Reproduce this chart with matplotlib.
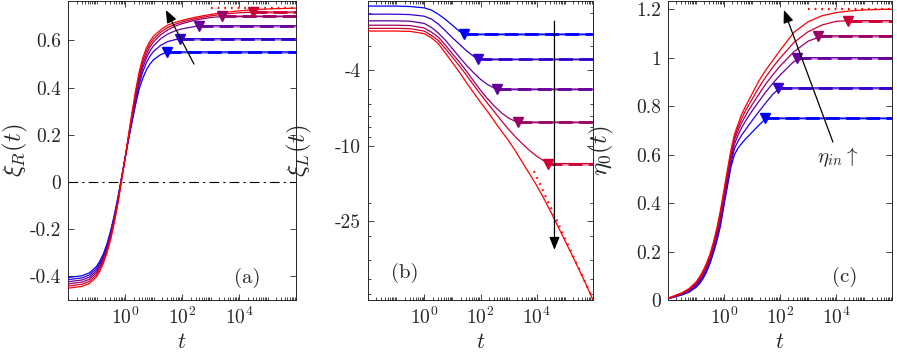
import numpy as np
import matplotlib
matplotlib.use('Agg')
import matplotlib.pyplot as plt
from matplotlib.ticker import FixedLocator, NullFormatter, FixedFormatter

plt.rcParams['font.family'] = ['cmr10', 'DejaVu Serif']
plt.rcParams['mathtext.fontset'] = 'cm'
plt.rcParams['axes.unicode_minus'] = False
plt.rcParams['axes.formatter.use_mathtext'] = True
plt.rcParams['lines.scale_dashes'] = False

# ---------------- data (log10 t grids and curve values) ----------------
XMIN, XMAX = 1e-2, 1e6

# panel (a): xi_R(t)
logt_a = [-2, -1.5, -1.25, -1, -0.875, -0.75, -0.625, -0.5, -0.375, -0.25, -0.125, 0, 0.125, 0.25,
          0.375, 0.5, 0.625, 0.75, 0.875, 1, 1.25, 1.5, 1.75, 2, 2.5, 3, 3.5, 4, 4.5, 5, 5.5, 6]
xiR_1 = [-0.405, -0.397, -0.385, -0.358, -0.334, -0.302, -0.259, -0.205, -0.14, -0.066, 0.017, 0.10, 0.18, 0.255,
         0.33, 0.395, 0.44, 0.475, 0.50, 0.518, 0.54, 0.551, 0.551, 0.551, 0.551, 0.551, 0.551, 0.551, 0.551,
         0.551, 0.551, 0.551]
xiR_2 = [-0.414, -0.406, -0.394, -0.367, -0.342, -0.31, -0.267, -0.212, -0.146, -0.071, 0.014, 0.10, 0.184, 0.265,
         0.345, 0.415, 0.467, 0.505, 0.533, 0.553, 0.579, 0.595, 0.603, 0.607, 0.607, 0.607, 0.607, 0.607, 0.607,
         0.607, 0.607, 0.607]
xiR_3 = [-0.423, -0.415, -0.403, -0.376, -0.351, -0.318, -0.274, -0.22, -0.153, -0.076, 0.011, 0.099, 0.188, 0.272,
         0.355, 0.43, 0.485, 0.525, 0.555, 0.577, 0.607, 0.627, 0.640, 0.649, 0.660, 0.662, 0.662, 0.662, 0.662,
         0.662, 0.662, 0.662]
xiR_4 = [-0.432, -0.424, -0.412, -0.384, -0.359, -0.326, -0.282, -0.227, -0.159, -0.082, 0.009, 0.099, 0.192, 0.281,
         0.366, 0.443, 0.50, 0.54, 0.572, 0.594, 0.624, 0.645, 0.66, 0.671, 0.687, 0.697, 0.702, 0.702, 0.702,
         0.702, 0.702, 0.702]
xiR_5 = [-0.441, -0.433, -0.421, -0.393, -0.368, -0.334, -0.289, -0.235, -0.166, -0.087, 0.006, 0.098, 0.196, 0.289,
         0.378, 0.455, 0.513, 0.555, 0.585, 0.606, 0.635, 0.655, 0.668, 0.678, 0.693, 0.704, 0.712, 0.717, 0.72,
         0.72, 0.72, 0.72]
xiR_6 = [-0.45, -0.442, -0.43, -0.402, -0.376, -0.342, -0.297, -0.242, -0.172, -0.092, 0.003, 0.098, 0.20, 0.298,
         0.39, 0.468, 0.527, 0.568, 0.597, 0.618, 0.645, 0.665, 0.676, 0.685, 0.699, 0.71, 0.719, 0.725, 0.73,
         0.733, 0.735, 0.737]
tsat_a = [10**1.47, 10**1.94, 10**2.6, 10**3.4, 10**4.5]
vsat_a = [0.551, 0.607, 0.662, 0.702, 0.72]
asym_a = 0.738
asym_a_t0 = 1e3

# panel (b): xi_L(t) (magnitudes, plotted on a reversed log axis)
logt_b = [-2, -1, -0.5, 0, 0.25, 0.5, 0.75, 1, 1.25, 1.5, 1.75, 2, 2.25, 2.5, 2.75,
          3, 3.25, 3.5, 3.75, 4, 4.25, 4.5, 4.75, 5, 5.25, 5.5, 5.75, 6]
xiL_1 = [1.84, 1.84, 1.85, 1.88, 1.93, 2.03, 2.16, 2.32, 2.50, 2.59, 2.59, 2.59, 2.59, 2.59, 2.59,
         2.59, 2.59, 2.59, 2.59, 2.59, 2.59, 2.59, 2.59, 2.59, 2.59, 2.59, 2.59, 2.59]
xiL_2 = [2.03, 2.03, 2.04, 2.08, 2.15, 2.29, 2.48, 2.70, 2.92, 3.16, 3.38, 3.51, 3.51, 3.51, 3.51,
         3.51, 3.51, 3.51, 3.51, 3.51, 3.51, 3.51, 3.51, 3.51, 3.51, 3.51, 3.51, 3.51]
xiL_3 = [2.20, 2.20, 2.21, 2.27, 2.38, 2.55, 2.78, 3.08, 3.41, 3.77, 4.12, 4.47, 4.76, 4.98, 5.04,
         5.04, 5.04, 5.04, 5.04, 5.04, 5.04, 5.04, 5.04, 5.04, 5.04, 5.04, 5.04, 5.04]
xiL_4 = [2.32, 2.32, 2.33, 2.40, 2.52, 2.68, 2.95, 3.28, 3.62, 4.05, 4.55, 5.10, 5.65, 6.20, 6.72,
         7.15, 7.45, 7.52, 7.52, 7.52, 7.52, 7.52, 7.52, 7.52, 7.52, 7.52, 7.52, 7.52]
xiL_5 = [2.41, 2.41, 2.42, 2.49, 2.62, 2.79, 3.08, 3.42, 3.80, 4.25, 4.78, 5.35, 5.98, 6.65, 7.40,
         8.20, 9.00, 9.80, 10.6, 11.35, 12.0, 12.4, 12.4, 12.4, 12.4, 12.4, 12.4, 12.4]
xiL_6 = [2.49, 2.49, 2.50, 2.57, 2.70, 2.90, 3.25, 3.65, 4.10, 4.65, 5.25, 5.90, 6.60, 7.45, 8.40,
         9.40, 10.7, 12.3, 14.1, 16.2, 18.9, 22.3, 26.5, 31.5, 37.5, 44.7, 53.5, 64.8]
tsat_b = [10**1.42, 10**1.9, 10**2.57, 10**3.33, 10**4.39]
vsat_b = [2.59, 3.51, 5.04, 7.52, 12.4]
asym_b_t = [10**3.9, 1e6]
asym_b_v = [13.6, 64.0]

# panel (c): eta_0(t)
logt_c = [-2, -1.5, -1.25, -1, -0.875, -0.75, -0.625, -0.5, -0.375, -0.25, -0.125, 0, 0.125, 0.25,
          0.375, 0.5, 0.625, 0.75, 0.875, 1, 1.25, 1.5, 1.75, 2, 2.5, 3, 3.5, 4, 4.5, 5, 5.5, 6]
eta_1 = [0.005, 0.021, 0.032, 0.052, 0.067, 0.088, 0.115, 0.15, 0.195, 0.245, 0.306, 0.39, 0.47, 0.55,
         0.60, 0.627, 0.645, 0.662, 0.677, 0.692, 0.722, 0.75, 0.75, 0.75, 0.75, 0.75, 0.75, 0.75, 0.75,
         0.75, 0.75, 0.75]
eta_2 = [0.005, 0.023, 0.035, 0.056, 0.073, 0.094, 0.122, 0.158, 0.205, 0.256, 0.319, 0.403, 0.484, 0.566,
         0.625, 0.655, 0.68, 0.70, 0.72, 0.74, 0.778, 0.815, 0.85, 0.875, 0.875, 0.875, 0.875, 0.875, 0.875,
         0.875, 0.875, 0.875]
eta_3 = [0.006, 0.025, 0.038, 0.061, 0.078, 0.101, 0.13, 0.166, 0.215, 0.267, 0.332, 0.416, 0.498, 0.582,
         0.643, 0.68, 0.71, 0.735, 0.758, 0.78, 0.82, 0.86, 0.895, 0.928, 0.985, 1.0, 1.0, 1.0, 1.0,
         1.0, 1.0, 1.0]
eta_4 = [0.006, 0.026, 0.041, 0.065, 0.084, 0.107, 0.137, 0.174, 0.225, 0.278, 0.346, 0.429, 0.512, 0.598,
         0.66, 0.698, 0.73, 0.757, 0.782, 0.805, 0.85, 0.893, 0.93, 0.965, 1.025, 1.068, 1.09, 1.09, 1.09,
         1.09, 1.09, 1.09]
eta_5 = [0.007, 0.028, 0.044, 0.070, 0.089, 0.114, 0.145, 0.182, 0.231, 0.289, 0.359, 0.442, 0.526, 0.606,
         0.672, 0.712, 0.748, 0.777, 0.803, 0.828, 0.878, 0.922, 0.962, 0.998, 1.063, 1.107, 1.135, 1.15, 1.153,
         1.153, 1.153, 1.153]
eta_6 = [0.007, 0.03, 0.047, 0.074, 0.095, 0.12, 0.152, 0.19, 0.24, 0.30, 0.372, 0.455, 0.54, 0.62,
         0.685, 0.725, 0.765, 0.795, 0.823, 0.85, 0.905, 0.95, 0.99, 1.03, 1.105, 1.148, 1.173, 1.186, 1.193,
         1.197, 1.199, 1.2]
tsat_c = [10**1.45, 10**1.93, 10**2.6, 10**3.37, 10**4.42]
vsat_c = [0.75, 0.875, 1.0, 1.09, 1.153]
asym_c = 1.2
asym_c_t0 = 1e3

# tick labels
xticks = [1e0, 1e2, 1e4]
xticklabels = ['$10^0$', '$10^2$', '$10^4$']
yticks_a = [-0.4, -0.2, 0, 0.2, 0.4, 0.6]
yticklabels_a = ['-0.4', '-0.2', '0', '0.2', '0.4', '0.6']
yticks_b = [4, 10, 25]
yticklabels_b = ['-4', '-10', '-25']
yticks_c = [0, 0.2, 0.4, 0.6, 0.8, 1.0, 1.2]
yticklabels_c = ['0', '0.2', '0.4', '0.6', '0.8', '1', '1.2']

# ---------------- figure ----------------
W, H = 897, 354
fig = plt.figure(figsize=(W / 100, H / 100), dpi=100)

def px_axes(l, r, t, b):
    return fig.add_axes([l / W, 1 - b / H, (r - l) / W, (b - t) / H])

axA = px_axes(68, 296, 1, 300)
axB = px_axes(368, 593, 1, 300)
axC = px_axes(668, 892, 1, 300)

colors = [(k / 5, 0, 1 - k / 5) for k in range(6)]
dark = '#262626'

def style(ax):
    ax.set_xscale('log')
    ax.set_xlim(XMIN, XMAX)
    ax.xaxis.set_major_locator(FixedLocator(xticks))
    ax.xaxis.set_major_formatter(FixedFormatter(xticklabels))
    minors = [m * 10.0**e for e in range(-2, 6) for m in range(1, 10)]
    ax.xaxis.set_minor_locator(FixedLocator(minors))
    ax.xaxis.set_minor_formatter(NullFormatter())
    ax.tick_params(which='both', direction='in', top=True, right=True,
                   colors=dark, labelcolor=dark, labelsize=14, width=0.6)
    ax.tick_params(which='major', length=4.5, pad=5)
    ax.tick_params(which='minor', length=2.2)
    for s in ax.spines.values():
        s.set_color(dark)
        s.set_linewidth(0.7)
    ax.set_xlabel('$t$', fontsize=16, color=dark)
    ax.xaxis.set_label_coords(0.5, -0.11)

def draw(ax, logt, curves, tsat, vsat):
    t = 10 ** np.asarray(logt, dtype=float)
    for k, c in enumerate(curves):
        ax.plot(t, c, color=colors[k], lw=0.9, zorder=3)
    for k in range(len(tsat)):
        ax.plot([tsat[k], XMAX], [vsat[k], vsat[k]], color=colors[k], lw=2.0, alpha=0.35,
                solid_capstyle='butt', zorder=3)
        ax.plot([tsat[k], XMAX], [vsat[k], vsat[k]], color=colors[k], lw=2.0,
                dashes=(10, 4.5), dash_capstyle='butt', zorder=4)
        ax.plot([tsat[k]], [vsat[k]], marker='v', color=colors[k], ms=7.5,
                mec=colors[k], zorder=5)

def arrow(ax, tail, head):
    ax.annotate('', xy=head, xytext=tail,
                arrowprops=dict(arrowstyle='-|>,head_length=0.55,head_width=0.22',
                                color='k', lw=0.9, shrinkA=0, shrinkB=0,
                                mutation_scale=14), zorder=6)

# (a)
style(axA)
draw(axA, logt_a, [xiR_1, xiR_2, xiR_3, xiR_4, xiR_5, xiR_6], tsat_a, vsat_a)
axA.plot([asym_a_t0, XMAX], [asym_a, asym_a], color='red', lw=1.6, dashes=(1.2, 3.6), zorder=4)
axA.axhline(0, color='k', lw=0.8, dashes=(7, 3, 1.5, 3), zorder=2)
axA.set_ylim(-0.5, 0.767)
axA.set_yticks(yticks_a)
axA.set_yticklabels(yticklabels_a)
axA.set_ylabel(r'$\xi_R(t)$', fontsize=18, color=dark)
axA.yaxis.set_label_coords(-0.168, 0.5)
arrow(axA, (10**2.42, 0.50), (10**1.43, 0.729))
axA.text(0.785, 0.074, '(a)', transform=axA.transAxes, fontsize=15, ha='center', va='center', color=dark)

# (b)
style(axB)
axB.set_yscale('log')
draw(axB, logt_b, [xiL_1, xiL_2, xiL_3, xiL_4, xiL_5, xiL_6], tsat_b, vsat_b)
axB.plot(asym_b_t, asym_b_v, color='red', lw=1.6, dashes=(1.2, 3.6), zorder=4)
axB.set_ylim(64.8, 1.73)
axB.yaxis.set_major_locator(FixedLocator(yticks_b))
axB.yaxis.set_major_formatter(FixedFormatter(yticklabels_b))
bminor = [m * 10.0**e for e in range(0, 2) for m in range(1, 10)]
axB.yaxis.set_minor_locator(FixedLocator(bminor))
axB.yaxis.set_minor_formatter(NullFormatter())
axB.set_ylabel(r'$\xi_L(t)$', fontsize=18, color=dark)
axB.yaxis.set_label_coords(-0.24, 0.5)
arrow(axB, (10**4.63, 2.21), (10**4.63, 35.3))
axB.text(0.164, 0.09, '(b)', transform=axB.transAxes, fontsize=15, ha='center', va='center', color=dark)

# (c)
style(axC)
draw(axC, logt_c, [eta_1, eta_2, eta_3, eta_4, eta_5, eta_6], tsat_c, vsat_c)
axC.plot([asym_c_t0, XMAX], [asym_c, asym_c], color='red', lw=1.6, dashes=(1.2, 3.6), zorder=4)
axC.set_ylim(0, 1.234)
axC.set_yticks(yticks_c)
axC.set_yticklabels(yticklabels_c)
axC.set_ylabel(r'$\eta_0(t)$', fontsize=18, color=dark)
axC.yaxis.set_label_coords(-0.23, 0.5)
arrow(axC, (10**3.89, 0.652), (10**2.14, 1.197))
axC.text(10**4.07, 0.59, r'$\eta_{in}\uparrow$', fontsize=15, ha='center', va='center', color=dark)
axC.text(0.787, 0.077, '(c)', transform=axC.transAxes, fontsize=15, ha='center', va='center', color=dark)

fig.savefig('out.png', dpi=100)
